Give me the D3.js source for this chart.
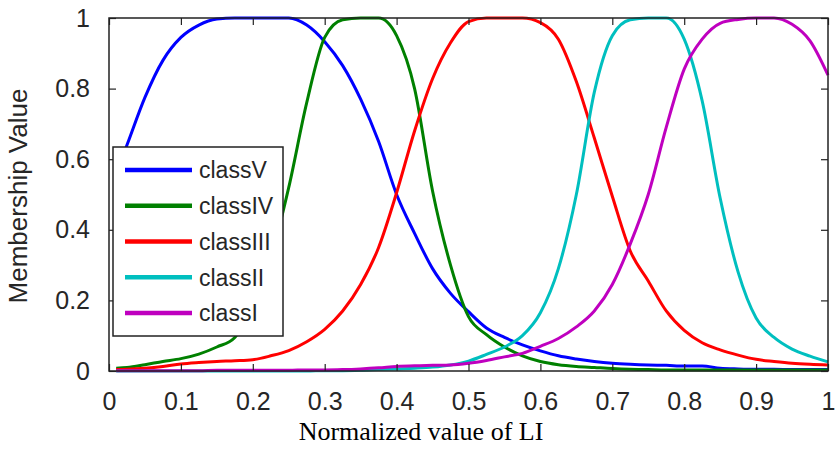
<!DOCTYPE html>
<html>
<head>
<meta charset="utf-8">
<script src="https://cdn.jsdelivr.net/npm/d3@7"></script>
<style>
  html, body { margin: 0; padding: 0; background: #fff; }
  svg { display: block; }
</style>
</head>
<body>
<svg id="chart" width="836" height="449"></svg>
<script>
// ---- data ----
const xValues = [0.01, 0.025, 0.05, 0.075, 0.1, 0.125, 0.15, 0.175, 0.2, 0.225, 0.25, 0.275, 0.3, 0.325, 0.35, 0.375, 0.4, 0.425, 0.45, 0.475, 0.5, 0.525, 0.55, 0.575, 0.6, 0.625, 0.65, 0.675, 0.7, 0.725, 0.75, 0.775, 0.8, 0.825, 0.85, 0.875, 0.9, 0.925, 0.95, 0.975, 1.0];

const classV = [0.56, 0.64, 0.775, 0.88, 0.945, 0.98, 0.997, 1, 1, 1, 1, 0.98, 0.933, 0.865, 0.77, 0.65, 0.50, 0.39, 0.29, 0.22, 0.168, 0.122, 0.095, 0.074, 0.057, 0.043, 0.034, 0.027, 0.022, 0.019, 0.017, 0.016, 0.014, 0.014, 0.008, 0.006, 0.005, 0.005, 0.004, 0.004, 0.004];

const classIV = [0.008, 0.01, 0.018, 0.027, 0.035, 0.048, 0.068, 0.095, 0.18, 0.32, 0.52, 0.76, 0.945, 0.995, 1, 1, 0.95, 0.80, 0.51, 0.30, 0.154, 0.103, 0.068, 0.043, 0.027, 0.018, 0.013, 0.01, 0.007, 0.005, 0.004, 0.003, 0.003, 0.003, 0.003, 0.003, 0.003, 0.003, 0.003, 0.003, 0.003];

const classIII = [0.004, 0.005, 0.008, 0.013, 0.02, 0.024, 0.027, 0.029, 0.032, 0.043, 0.058, 0.083, 0.118, 0.17, 0.245, 0.35, 0.505, 0.68, 0.828, 0.93, 0.99, 1, 1, 1, 0.987, 0.94, 0.82, 0.66, 0.495, 0.34, 0.255, 0.17, 0.115, 0.08, 0.06, 0.045, 0.033, 0.027, 0.022, 0.019, 0.017];

const classII = [0, 0, 0, 0, 0, 0, 0, 0, 0, 0, 0, 0, 0.001, 0.001, 0.002, 0.004, 0.006, 0.008, 0.011, 0.017, 0.028, 0.047, 0.068, 0.10, 0.165, 0.29, 0.50, 0.79, 0.95, 0.995, 1, 1, 0.94, 0.765, 0.49, 0.28, 0.15, 0.095, 0.062, 0.042, 0.026];

const classI = [0.001, 0.001, 0.001, 0.001, 0.001, 0.001, 0.002, 0.002, 0.002, 0.002, 0.002, 0.003, 0.003, 0.004, 0.006, 0.009, 0.013, 0.015, 0.016, 0.017, 0.022, 0.03, 0.04, 0.05, 0.07, 0.092, 0.125, 0.17, 0.245, 0.36, 0.50, 0.69, 0.855, 0.94, 0.985, 0.996, 1, 1, 0.982, 0.935, 0.838];

const seriesNames = ["classV", "classIV", "classIII", "classII", "classI"];
const seriesValues = [classV, classIV, classIII, classII, classI];
const seriesColors = ["#0000ff", "#008000", "#ff0000", "#00bfbf", "#bf00bf"];

const xTicks = [0, 0.1, 0.2, 0.3, 0.4, 0.5, 0.6, 0.7, 0.8, 0.9, 1];
const yTicks = [0, 0.2, 0.4, 0.6, 0.8, 1];
const xTitle = "Normalized value of LI";
const yTitle = "Membership Value";

// ---- layout ----
const svg = d3.select("#chart");
const L = 109, R = 828, T = 18, B = 371;
const x = d3.scaleLinear().domain([0, 1]).range([L, R]);
const y = d3.scaleLinear().domain([0, 1]).range([B, T]);
const fmt = d => d3.format("~g")(d);
const labelFont = "'Liberation Sans', Arial, Helvetica, sans-serif";
const textColor = "#262626";

// curves
const line = d3.line()
  .x((d, i) => x(xValues[i]))
  .y(d => y(d))
  .curve(d3.curveMonotoneX);
svg.append("g").selectAll("path")
  .data(seriesValues)
  .join("path")
  .attr("d", d => line(d))
  .attr("fill", "none")
  .attr("stroke", (d, i) => seriesColors[i])
  .attr("stroke-width", 3)
  .attr("stroke-linejoin", "round");

// axes
function styleAxis(g, showText) {
  g.select(".domain").remove();
  g.selectAll(".tick line").attr("stroke", "#222").attr("stroke-width", 1.2);
  g.selectAll(".tick text")
    .attr("fill", textColor)
    .style("font-family", labelFont)
    .style("font-size", "25px");
  if (!showText) g.selectAll(".tick text").remove();
}

svg.append("g").attr("transform", `translate(0,${B})`)
  .call(d3.axisBottom(x).tickValues(xTicks).tickFormat(fmt).tickSizeInner(-7).tickSizeOuter(0).tickPadding(21))
  .call(g => styleAxis(g, true));
svg.append("g").attr("transform", `translate(0,${T})`)
  .call(d3.axisTop(x).tickValues(xTicks).tickSizeInner(-7).tickSizeOuter(0))
  .call(g => styleAxis(g, false));
svg.append("g").attr("transform", `translate(${L},0)`)
  .call(d3.axisLeft(y).tickValues(yTicks).tickFormat(fmt).tickSizeInner(-7).tickSizeOuter(0).tickPadding(19))
  .call(g => styleAxis(g, true));
svg.append("g").attr("transform", `translate(${R},0)`)
  .call(d3.axisRight(y).tickValues(yTicks).tickSizeInner(-7).tickSizeOuter(0))
  .call(g => styleAxis(g, false));

// frame
svg.append("rect")
  .attr("x", L).attr("y", T).attr("width", R - L).attr("height", B - T)
  .attr("fill", "none").attr("stroke", "#222").attr("stroke-width", 1.5);

// titles
svg.append("text")
  .attr("x", 421).attr("y", 440)
  .attr("text-anchor", "middle")
  .attr("fill", "#000")
  .style("font-family", "'Liberation Serif', 'Times New Roman', serif")
  .style("font-size", "26px")
  .text(xTitle);

svg.append("text")
  .attr("transform", "translate(27,196) rotate(-90)")
  .attr("text-anchor", "middle")
  .attr("fill", textColor)
  .style("font-family", labelFont)
  .style("font-size", "26px")
  .text(yTitle);

// legend
const leg = svg.append("g");
leg.append("rect")
  .attr("x", 113).attr("y", 147).attr("width", 170).attr("height", 189)
  .attr("fill", "#fff").attr("stroke", "#222").attr("stroke-width", 1.5);
const rowY = d3.scalePoint().domain(seriesNames).range([170, 313]);
const rows = leg.selectAll("g.row").data(seriesNames).join("g").attr("class", "row");
rows.append("line")
  .attr("x1", 125).attr("x2", 192)
  .attr("y1", d => rowY(d)).attr("y2", d => rowY(d))
  .attr("stroke", (d, i) => seriesColors[i])
  .attr("stroke-width", 4.5);
rows.append("text")
  .attr("x", 199).attr("y", d => rowY(d))
  .attr("dy", "0.36em")
  .attr("fill", textColor)
  .style("font-family", labelFont)
  .style("font-size", "23px")
  .text(d => d);
</script>
</body>
</html>
